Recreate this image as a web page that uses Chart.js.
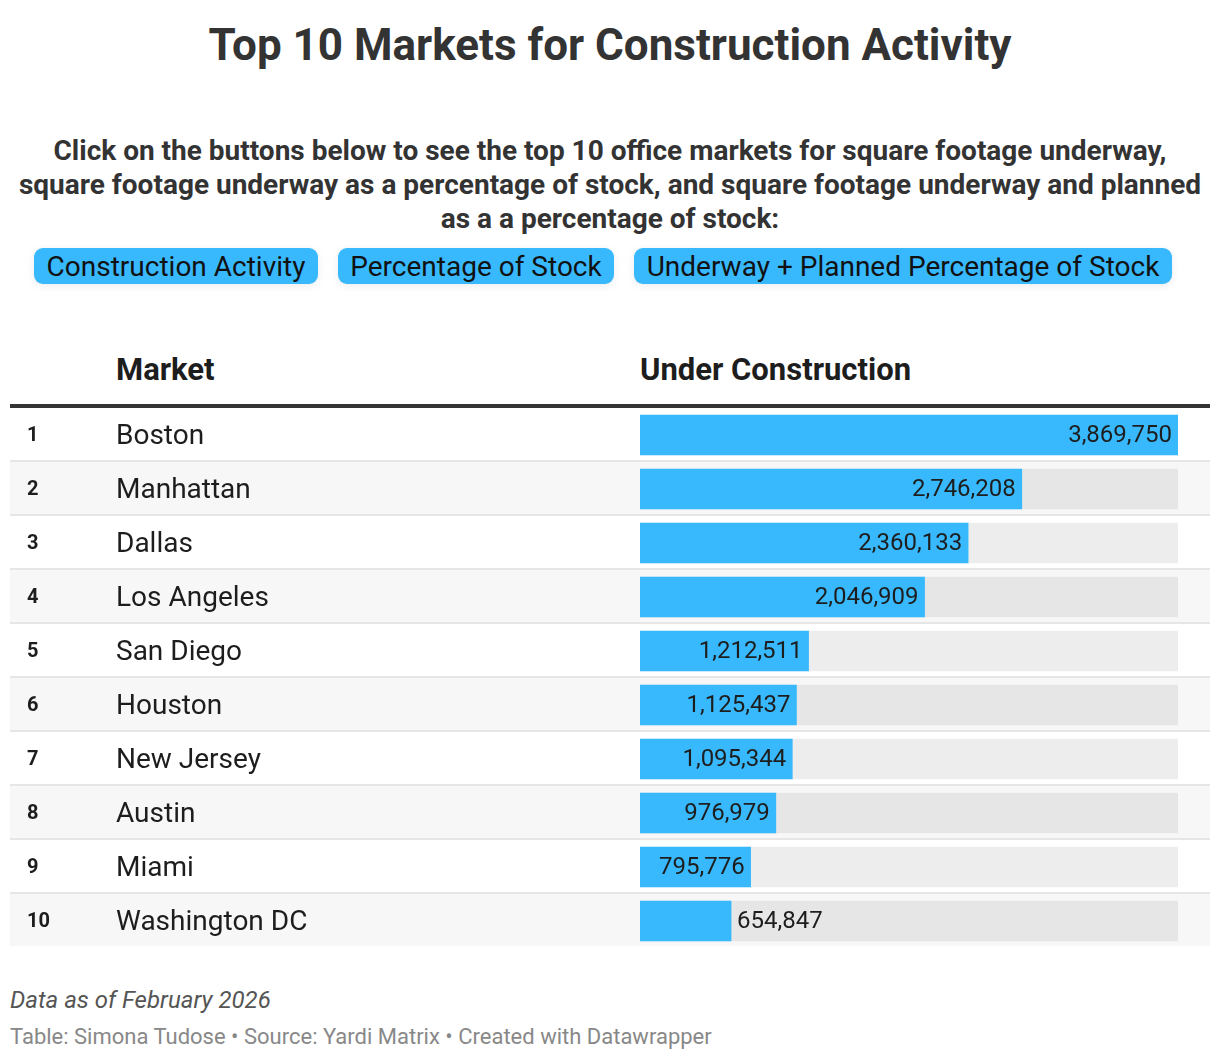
<!DOCTYPE html>
<html>
<head>
<meta charset="utf-8">
<script src="https://cdn.jsdelivr.net/npm/chart.js@4.4.1/dist/chart.umd.min.js"></script>
<style>
    html, body { margin: 0; padding: 0; background: #fff; }
    body { width: 1220px; height: 1060px; position: relative; font-family: Roboto, sans-serif; color: #333; }
    .title { position: absolute; left: 0; top: 19px; width: 1220px; text-align: center; font-size: 44px; font-weight: 700; color: #333; line-height: 52px; }
    .desc { position: absolute; left: 0; top: 134px; width: 1220px; text-align: center; font-size: 28px; font-weight: 700; color: #333; line-height: 34px; }
    .btn { position: absolute; top: 248px; height: 36px; line-height: 38px; background: #38b9fd; border-radius: 9px; font-size: 28px; color: #111; text-align: center; box-shadow: 0 2px 8px rgba(0,0,0,0.08); }
    .head { position: absolute; top: 350px; font-size: 31px; font-weight: 700; color: #1d1d1d; line-height: 40px; }
    .rule { position: absolute; left: 10px; top: 404px; width: 1200px; height: 4px; background: #333; }
    .wrap { position: absolute; left: 10px; top: 408px; width: 1200px; height: 540px; }
    .note { position: absolute; left: 10px; top: 986px; font-size: 24px; font-style: italic; color: #555; }
    .credit { position: absolute; left: 10px; top: 1024px; font-size: 22px; color: #888; }
</style>
</head>
<body>
<div class="title">Top 10 Markets for Construction Activity</div>
<div class="desc">Click on the buttons below to see the top 10 office markets for square footage underway,<br>square footage underway as a percentage of stock, and square footage underway and planned<br>as a a percentage of stock:</div>
<div class="btn" style="left:34px;width:284px;">Construction Activity</div>
<div class="btn" style="left:338px;width:276px;">Percentage of Stock</div>
<div class="btn" style="left:634px;width:538px;">Underway + Planned Percentage of Stock</div>
<div class="head" style="left:116px;">Market</div>
<div class="head" style="left:640px;">Under Construction</div>
<div class="rule"></div>
<div class="wrap"><canvas id="chart"></canvas></div>
<div class="note">Data as of February 2026</div>
<div class="credit">Table: Simona Tudose • Source: Yardi Matrix • Created with Datawrapper</div>
<script>
    const ranks = ['1', '2', '3', '4', '5', '6', '7', '8', '9', '10'];
    const markets = ['Boston', 'Manhattan', 'Dallas', 'Los Angeles', 'San Diego', 'Houston', 'New Jersey', 'Austin', 'Miami', 'Washington DC'];
    const underConstruction = [3869750, 2746208, 2360133, 2046909, 1212511, 1125437, 1095344, 976979, 795776, 654847];

    const maxValue = Math.max(...underConstruction);
    const barBlue = '#38b9fd';

    // Row stripes, dividers, rank and market text
    const tableRows = {
        id: 'tableRows',
        beforeDatasetsDraw(chart) {
            const ctx = chart.ctx;
            const yScale = chart.scales.y;
            const w = chart.width;
            ctx.save();
            markets.forEach((m, i) => {
                const cy = yScale.getPixelForValue(i);
                const top = cy - 27;
                ctx.fillStyle = i % 2 === 0 ? '#ffffff' : '#f7f7f7';
                ctx.fillRect(0, top, w, 52);
                if (i < markets.length - 1) {
                    ctx.fillStyle = '#e6e6e6';
                    ctx.fillRect(0, top + 52, w, 2);
                }
                ctx.fillStyle = '#1d1d1d';
                ctx.textBaseline = 'middle';
                ctx.textAlign = 'left';
                ctx.font = 'bold 20px Roboto';
                ctx.fillText(ranks[i], 17, cy + 1);
                ctx.font = '28px Roboto';
                ctx.fillText(m, 106, cy + 2);
            });
            ctx.restore();
        }
    };

    // Value labels: inside the bar end, or just outside when the bar is too short
    const valueLabels = {
        id: 'valueLabels',
        afterDatasetsDraw(chart) {
            const ctx = chart.ctx;
            const meta = chart.getDatasetMeta(0);
            ctx.save();
            ctx.font = '24px Roboto';
            ctx.fillStyle = '#1d1d1d';
            ctx.textBaseline = 'middle';
            meta.data.forEach((bar, i) => {
                const txt = underConstruction[i].toLocaleString('en-US');
                const tw = ctx.measureText(txt).width;
                const barW = bar.x - bar.base;
                if (barW > tw + 12) {
                    ctx.textAlign = 'right';
                    ctx.fillText(txt, bar.x - 6, bar.y + 1);
                } else {
                    ctx.textAlign = 'left';
                    ctx.fillText(txt, bar.x + 6, bar.y + 1);
                }
            });
            ctx.restore();
        }
    };

    new Chart(document.getElementById('chart'), {
        type: 'bar',
        data: {
            labels: markets,
            datasets: [{
                data: underConstruction,
                backgroundColor: barBlue,
                barThickness: 40,
                order: 1
            }, {
                data: markets.map(() => maxValue),
                backgroundColor: markets.map((m, i) => i % 2 === 0 ? '#ededed' : '#e6e6e6'),
                barThickness: 40,
                order: 2
            }]
        },
        options: {
            indexAxis: 'y',
            responsive: true,
            maintainAspectRatio: false,
            animation: false,
            layout: {
                padding: { top: 0, bottom: 0, left: 630, right: 32 }
            },
            plugins: {
                legend: { display: false },
                tooltip: { enabled: false }
            },
            scales: {
                x: {
                    display: false,
                    min: 0,
                    max: maxValue
                },
                y: {
                    display: false,
                    stacked: true
                }
            }
        },
        plugins: [tableRows, valueLabels]
    });
</script>
</body>
</html>
